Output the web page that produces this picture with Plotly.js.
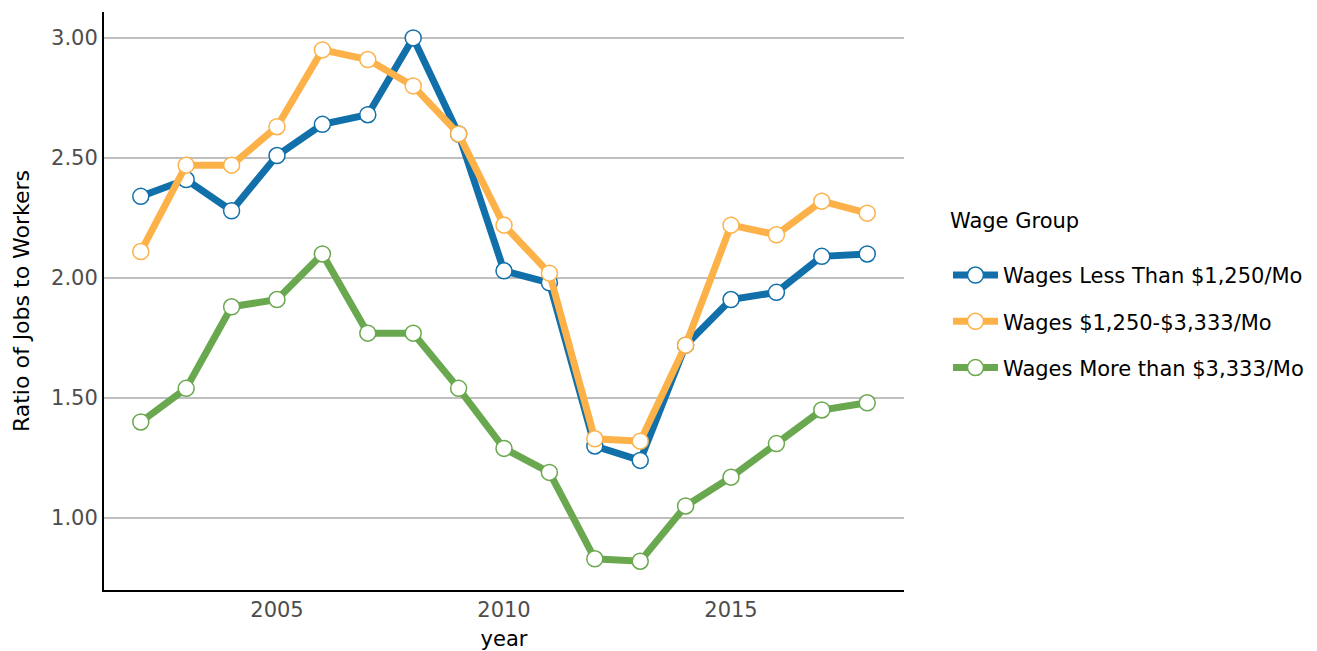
<!DOCTYPE html>
<html>
<head>
<meta charset="utf-8">
<script src="https://cdn.plot.ly/plotly-3.0.1.min.js"></script>
<style>html,body{margin:0;padding:0;background:#fff;}#chart{width:1317px;height:651px;}</style>
</head>
<body>
<div id="chart"></div>
<script>
const years = [2002,2003,2004,2005,2006,2007,2008,2009,2010,2011,2012,2013,2014,2015,2016,2017,2018];
const seriesNames = ["Wages Less Than $1,250/Mo","Wages $1,250-$3,333/Mo","Wages More than $3,333/Mo"];
const lowWage  = [2.34,2.41,2.28,2.51,2.64,2.68,3.00,2.60,2.03,1.98,1.30,1.24,1.72,1.91,1.94,2.09,2.10];
const midWage  = [2.11,2.47,2.47,2.63,2.95,2.91,2.80,2.60,2.22,2.02,1.33,1.32,1.72,2.22,2.18,2.32,2.27];
const highWage = [1.40,1.54,1.88,1.91,2.10,1.77,1.77,1.54,1.29,1.19,0.83,0.82,1.05,1.17,1.31,1.45,1.48];
const yTicks = [1.0,1.5,2.0,2.5,3.0];
const yTickText = ["1.00","1.50","2.00","2.50","3.00"];
const xTicks = [2005,2010,2015];

const colors = ["#1170aa","#fdb249","#6aa84f"];
const vals = [lowWage, midWage, highWage];
const FONT = "DejaVu Sans, Verdana, sans-serif";

const traces = vals.map((v,i)=>({
  x: years, y: v, name: seriesNames[i], type: "scatter", mode: "lines+markers",
  legendgroup: "g"+i,
  line: {color: colors[i], width: 7},
  marker: {size: 16, color: "#ffffff", line: {color: colors[i], width: 1.5}}
}));

const layout = {
  width: 1317, height: 651,
  margin: {l: 104, r: 413, t: 12, b: 61, autoexpand: false},
  paper_bgcolor: "#fff", plot_bgcolor: "#fff",
  font: {family: FONT, size: 20, color: "#000"},
  showlegend: true,
  xaxis: {
    range: [2001.19, 2018.81], tickvals: xTicks, ticktext: xTicks.map(String),
    showgrid: false, zeroline: false, showline: true, linecolor: "#000", linewidth: 2,
    ticks: "", tickfont: {family: FONT, size: 21, color: "#4d4d4d"},
    title: {text: "year", font: {family: FONT, size: 21, color: "#000"}, standoff: 12}
  },
  yaxis: {
    range: [0.70, 3.108], tickvals: yTicks, ticktext: yTickText,
    showgrid: true, gridcolor: "#bfbfbf", gridwidth: 1.6, zeroline: false,
    showline: true, linecolor: "#000", linewidth: 2,
    ticks: "", tickfont: {family: FONT, size: 21, color: "#4d4d4d"},
    title: {text: "Ratio of Jobs to Workers", font: {family: FONT, size: 22, color: "#000"}, standoff: 15}
  },
  legend: {
    xref: "container", yref: "container",
    x: 0.7198, xanchor: "left", y: 0.548, yanchor: "middle",
    font: {family: FONT, size: 21, color: "#000"},
    title: {text: "Wage Group<br> ", font: {family: FONT, size: 21, color: "#000"}},
    itemwidth: 45,
    tracegroupgap: 16, bgcolor: "rgba(0,0,0,0)"
  }
};

Plotly.newPlot("chart", traces, layout, {displayModeBar: false, staticPlot: true});
</script>
</body>
</html>
